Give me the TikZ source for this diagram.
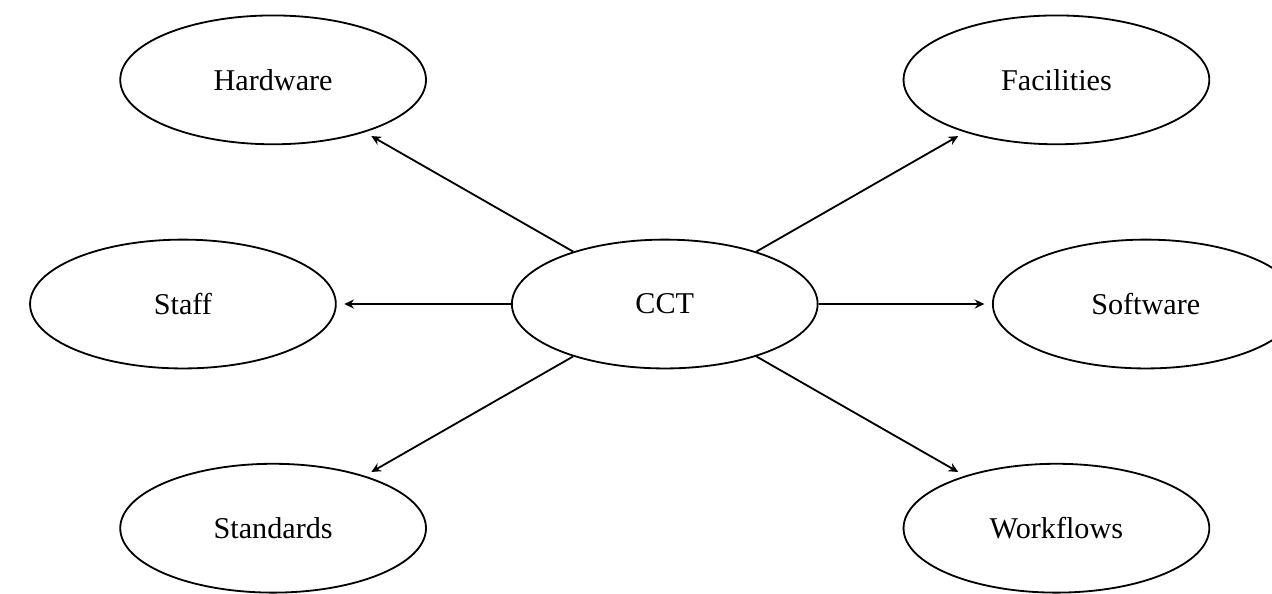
\documentclass[tikz,border=0pt]{standalone}
\usepackage{fontspec}
\setmainfont{Liberation Serif}
\usepackage{tikz}
\usetikzlibrary{positioning, calc, shapes.geometric, arrows.meta}

\begin{document}
\begin{tikzpicture}[node distance=4.56cm, auto, semithick]
        % Define block styles
        \tikzstyle{area} = [ellipse, draw, minimum width=3.56cm, minimum height=1.5cm, inner sep=0pt]
        \tikzstyle{link} = [-{Stealth[length=3.2pt, width=3pt]}, shorten >=2.5pt]

        % Fix the page size
        \useasboundingbox (-7.74,-3.376) rectangle (7.07,3.54);

        % Place nodes
        \node [area] (cct) {CCT};
        \node [area, left of=cct, yshift=2.61cm] (hardware) {Hardware};
        \node [area, right of=cct, yshift=2.61cm] (facilities) {Facilities};
        \node [area, left of=cct, xshift=-1.05cm] (staff) {Staff};
        \node [area, right of=cct, xshift=1.04cm] (software) {Software};
        \node [area, left of=cct, yshift=-2.61cm] (standards) {Standards};
        \node [area, right of=cct, yshift=-2.61cm] (workflows) {Workflows};

        % Draw connections as arrows
        \draw [link] (cct) -- (hardware);
        \draw [link] (cct) -- (facilities);
        \draw [link] (cct) -- (staff);
        \draw [link] (cct) -- (software);
        \draw [link] (cct) -- (standards);
        \draw [link] (cct) -- (workflows);
    \end{tikzpicture}
\end{document}
